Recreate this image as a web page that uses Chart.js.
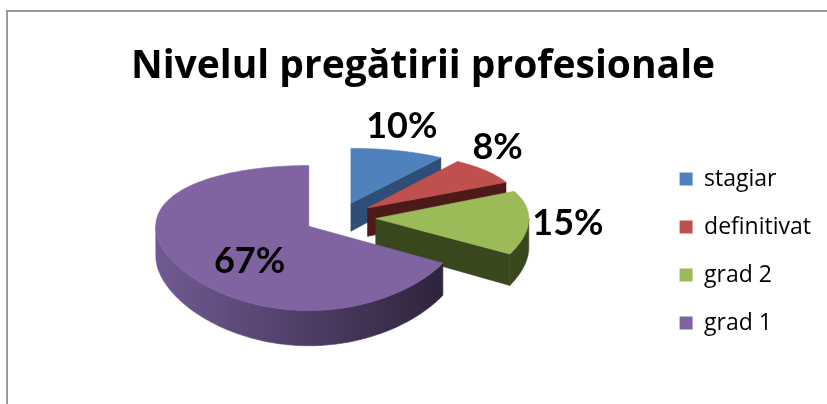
<!DOCTYPE html>
<html>
<head>
<meta charset="utf-8">
<script src="https://cdn.jsdelivr.net/npm/chart.js@4.4.1/dist/chart.umd.min.js"></script>
<style>
  html, body { margin: 0; padding: 0; background: #fff; }
  #frame { position: absolute; left: 6px; top: 10px; width: 900px; height: 500px; border: 2px solid #9a9a9a; }
  #wrap { position: absolute; left: 0; top: 0; width: 827px; height: 404px; }
</style>
</head>
<body>
<div id="frame"></div>
<div id="wrap"><canvas id="myChart"></canvas></div>
<script>
// data
const categories = ["stagiar", "definitivat", "grad 2", "grad 1"];
const percentages = [10, 8, 15, 67];

// excel 2007 style colours: top face, then side wall (light -> dark)
const topColors = ["#4f81bd", "#c0504d", "#9bbb59", "#8064a2"];
const wallColors = [
  ["#3d6696", "#2e4e76"],
  ["#6a2422", "#4e1a19"],
  ["#4b5e27", "#39471d"],
  ["#715a93", "#2a2036"]
];

const TILT = 0.444;  // how flat the pie looks
const DEPTH = 29;    // thickness of the pie in px
const PERSP = 965;   // viewer distance, front looks bigger than back
const STEP = Math.PI / 180;

function project(s, x, y, h) {
  const dz = y - s.O.y;
  const k = PERSP / (PERSP - dz);
  return { x: x, y: s.O.y + (dz * TILT + h) * k };
}

function rim(s, from, to, h) {
  const pts = [];
  const n = Math.max(2, Math.ceil((to - from) / STEP));
  for (let k = 0; k <= n; k++) {
    const t = from + (to - from) * k / n;
    pts.push(project(s, s.cx + Math.cos(t) * s.r, s.cy + Math.sin(t) * s.r, h));
  }
  return pts;
}

function fillPath(ctx, pts, style) {
  ctx.beginPath();
  pts.forEach((p, k) => (k ? ctx.lineTo(p.x, p.y) : ctx.moveTo(p.x, p.y)));
  ctx.closePath();
  ctx.fillStyle = style;
  ctx.strokeStyle = style;
  ctx.lineWidth = 0.6;
  ctx.fill();
  ctx.stroke();
}

function drawSlice(ctx, s) {
  const apexTop = project(s, s.cx, s.cy, 0);
  const apexBot = project(s, s.cx, s.cy, DEPTH);
  const grad = ctx.createLinearGradient(s.cx - s.r, 0, s.cx + s.r, 0);
  grad.addColorStop(0, wallColors[s.i][0]);
  grad.addColorStop(1, wallColors[s.i][1]);

  // radial faces turned towards the viewer
  if (Math.cos(s.a) < -0.01) {
    const t = rim(s, s.a, s.a, 0)[0], b = rim(s, s.a, s.a, DEPTH)[0];
    fillPath(ctx, [apexTop, t, b, apexBot], wallColors[s.i][1]);
  }
  if (Math.cos(s.b) > 0.01) {
    const t = rim(s, s.b, s.b, 0)[0], b = rim(s, s.b, s.b, DEPTH)[0];
    fillPath(ctx, [apexTop, t, b, apexBot], wallColors[s.i][1]);
  }
  // outer wall, only the front half is seen
  const lo = Math.max(s.a, 0), hi = Math.min(s.b, Math.PI);
  if (hi > lo) {
    const top = rim(s, lo, hi, 0);
    const bot = rim(s, lo, hi, DEPTH).reverse();
    fillPath(ctx, top.concat(bot), grad);
  }
  // top face
  fillPath(ctx, [apexTop].concat(rim(s, s.a, s.b, 0)), topColors[s.i]);
}

function drawLabel(ctx, s) {
  const share = percentages[s.i];
  const text = share + "%";
  ctx.save();
  ctx.font = "bold 36px Lato";
  ctx.fillStyle = "#000";
  ctx.textAlign = "center";
  ctx.textBaseline = "middle";
  let p;
  if (share > 50) {
    // big slice: label sits inside
    p = project(s, s.cx + Math.cos(s.mid) * s.r * 0.45, s.cy + Math.sin(s.mid) * s.r * 0.45, DEPTH * 0.6);
  } else {
    // small slices: label box just outside the rim, along the ellipse normal
    const edge = project(s, s.cx + Math.cos(s.mid) * s.r, s.cy + Math.sin(s.mid) * s.r, 0);
    let nx = Math.cos(s.mid) * TILT, ny = Math.sin(s.mid);
    const len = Math.hypot(nx, ny);
    nx /= len; ny /= len;
    const halfW = ctx.measureText(text).width / 2, halfH = 13;
    const gap = 3 + 9 * Math.abs(ny);
    const d = Math.min(halfW / Math.max(Math.abs(nx), 1e-6), halfH / Math.max(Math.abs(ny), 1e-6)) + gap;
    p = { x: edge.x + nx * d, y: edge.y + ny * d };
  }
  ctx.fillText(text, p.x, p.y);
  ctx.restore();
}

const pie3d = {
  id: "pie3d",
  beforeDatasetsDraw(chart) {
    const ctx = chart.ctx;
    const meta = chart.getDatasetMeta(0);
    const slices = meta.data.map((arc, i) => {
      const p = arc.getProps(["x", "y", "startAngle", "endAngle", "outerRadius"], true);
      const off = (arc.options.offset || 0) / 4;
      const mid = (p.startAngle + p.endAngle) / 2;
      return {
        i: i, O: { x: p.x, y: p.y },
        cx: p.x + Math.cos(mid) * off, cy: p.y + Math.sin(mid) * off,
        r: p.outerRadius, a: p.startAngle, b: p.endAngle, mid: mid
      };
    });
    // back slices first
    slices.slice().sort((u, v) => Math.sin(u.mid) - Math.sin(v.mid)).forEach(s => drawSlice(ctx, s));
    slices.forEach(s => drawLabel(ctx, s));
    return false;
  }
};

Chart.defaults.color = "#000";

const ctx = document.getElementById("myChart");
new Chart(ctx, {
  type: "pie",
  data: {
    labels: categories,
    datasets: [{
      data: percentages,
      backgroundColor: topColors,
      borderWidth: 0,
      offset: 144,
      radius: 153
    }]
  },
  options: {
    responsive: true,
    maintainAspectRatio: false,
    animation: false,
    layout: { padding: { top: 12, left: 25, right: 6, bottom: 44.5 } },
    plugins: {
      title: {
        display: true,
        text: "Nivelul pregătirii profesionale",
        font: { family: "Open Sans", size: 39, weight: "bold", lineHeight: 0.5 },
        padding: { top: 45, bottom: 0 }
      },
      legend: {
        position: "right",
        align: "end",
        labels: {
          boxWidth: 13,
          boxHeight: 13,
          padding: 25,
          font: { family: "Open Sans", size: 23 }
        }
      },
      tooltip: { enabled: false }
    }
  },
  plugins: [pie3d]
});
</script>
</body>
</html>
